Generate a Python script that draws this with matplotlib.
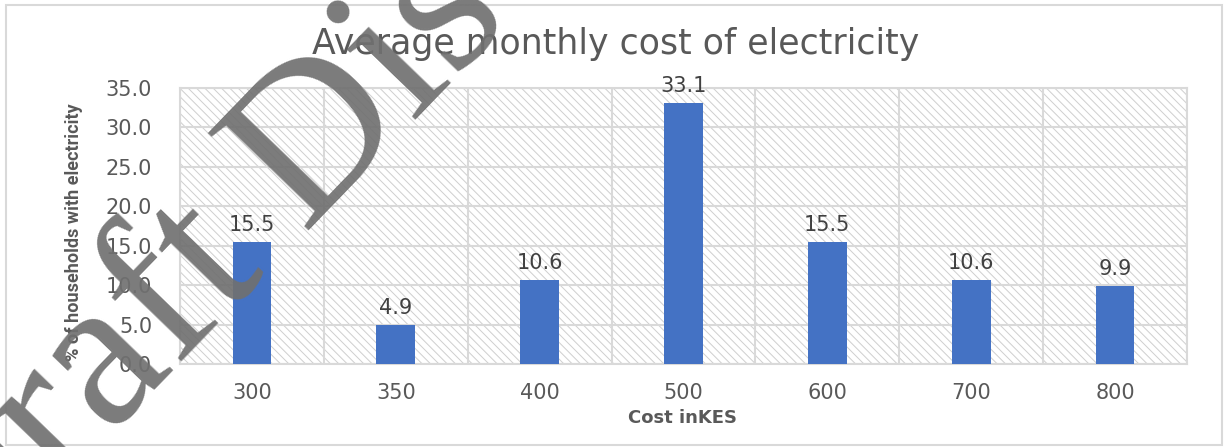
import matplotlib
matplotlib.use("Agg")
import matplotlib.pyplot as plt
from matplotlib.patches import Rectangle

categories = ["300", "350", "400", "500", "600", "700", "800"]
values = [15.5, 4.9, 10.6, 33.1, 15.5, 10.6, 9.9]
yticks = [0, 5, 10, 15, 20, 25, 30, 35]
title = "Average monthly cost of electricity"
xlabel = "Cost inKES"
ylabel = "% of households with electricity"
watermark = "Draft Discussion Paper"

W, H = 1230, 447
fig = plt.figure(figsize=(W / 100, H / 100), dpi=100)
fig.patch.set_facecolor("white")

# outer chart border
fig.patches.append(Rectangle((6 / W, 2 / H), 1216 / W, 440 / H, transform=fig.transFigure,
                             fill=False, edgecolor="#d9d9d9", linewidth=1.5))

ax = fig.add_axes([180 / W, 1 - 364 / H, (1187 - 180) / W, (364 - 88) / H])
n = len(categories)
x = list(range(n))

# hatched background
plt.rcParams['hatch.linewidth'] = 0.7
ax.add_patch(Rectangle((0, 0), 1, 1, transform=ax.transAxes, facecolor="white",
                       edgecolor="#cfcfcf", hatch="\\\\\\\\", linewidth=0, zorder=0))

ax.set_xlim(-0.5, n - 0.5)
ax.set_ylim(0, 35)
for k in range(n + 1):
    ax.axvline(k - 0.5, color="#d9d9d9", linewidth=1.5, zorder=1)
for t in yticks:
    ax.axhline(t, color="#d9d9d9", linewidth=1.5, zorder=1)

bars = ax.bar(x, values, width=0.27, color="#4472c4", zorder=3)
for xi, v in zip(x, values):
    ax.annotate(f"{v:.1f}", (xi, v), xytext=(0, 5), textcoords="offset points",
                ha="center", va="bottom", fontsize=15, color="#404040", clip_on=False)

ax.set_xticks(x)
ax.set_xticklabels(categories)
ax.set_yticks(yticks)
ax.set_yticklabels([f"{t:.1f}" for t in yticks])
ax.tick_params(axis="both", length=0, labelsize=15, labelcolor="#595959")
ax.tick_params(axis="x", pad=14)
ax.tick_params(axis="y", pad=20)
for s in ax.spines.values():
    s.set_color("#d9d9d9")
    s.set_linewidth(1.5)

fig.text(616 / W, 1 - 44 / H, title, ha="center", va="center", fontsize=25,
         color="#595959", family="DejaVu Sans")
fig.text(683 / W, 1 - 418 / H, xlabel, ha="center", va="center", fontsize=13,
         fontweight="bold", color="#595959", family="DejaVu Sans")
fig.text(74 / W, 1 - 232 / H, ylabel, ha="center", va="center", rotation=90,
         fontsize=13, fontweight="bold", color="#595959", family="Roboto")

# watermark
fig.text(-48 / W, 1 - 600 / H, watermark, rotation=46, rotation_mode="anchor",
         ha="left", va="baseline", fontsize=155, family="Liberation Serif",
         color="#707070", alpha=0.92, zorder=10)

fig.savefig("out.png", dpi=100)
